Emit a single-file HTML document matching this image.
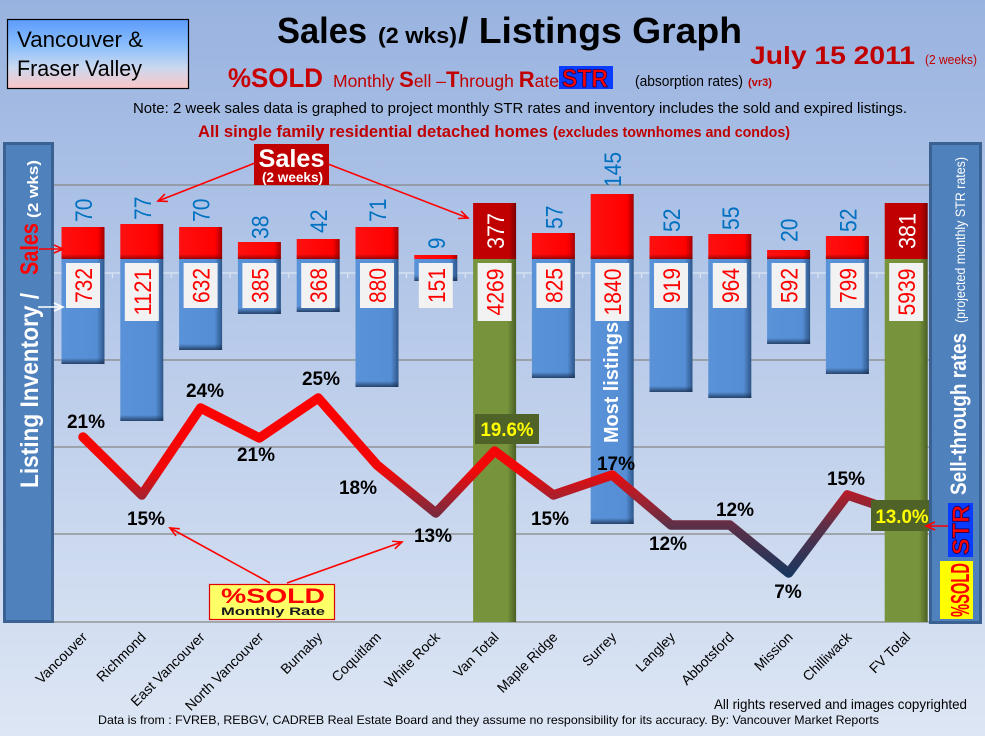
<!DOCTYPE html>
<html><head><meta charset="utf-8"><style>html,body{margin:0;padding:0;width:985px;height:736px;overflow:hidden;background:#c0cfea}svg{display:block}</style></head>
<body>
<svg width="985" height="736" viewBox="0 0 985 736" xmlns="http://www.w3.org/2000/svg" font-family="'Liberation Sans', Arial, sans-serif">
<defs>
<linearGradient id="bg" x1="0" y1="0" x2="0" y2="1"><stop offset="0" stop-color="#99b3e0"/><stop offset="1" stop-color="#dde6f4"/></linearGradient>
<linearGradient id="vf" x1="0" y1="0" x2="0" y2="1"><stop offset="0" stop-color="#5b9bfb"/><stop offset="0.4" stop-color="#8ec0fb"/><stop offset="0.7" stop-color="#cbd8ef"/><stop offset="1" stop-color="#fcc6c6"/></linearGradient>
<linearGradient id="blueG" x1="0" y1="0" x2="1" y2="0"><stop offset="0" stop-color="#5a92d8"/><stop offset="0.82" stop-color="#558ed5"/><stop offset="1" stop-color="#2e5688"/></linearGradient>
<linearGradient id="redG" x1="0" y1="0" x2="1" y2="0"><stop offset="0" stop-color="#ff1010"/><stop offset="0.84" stop-color="#ff0000"/><stop offset="1" stop-color="#a00000"/></linearGradient>
<linearGradient id="drG" x1="0" y1="0" x2="1" y2="0"><stop offset="0" stop-color="#c00000"/><stop offset="0.84" stop-color="#c00000"/><stop offset="1" stop-color="#7a0000"/></linearGradient>
<linearGradient id="grG" x1="0" y1="0" x2="1" y2="0"><stop offset="0" stop-color="#77933c"/><stop offset="0.8" stop-color="#77933c"/><stop offset="1" stop-color="#4a5e24"/></linearGradient>
<linearGradient id="shB" x1="0" y1="0" x2="0" y2="1"><stop offset="0" stop-color="#142846" stop-opacity="0"/><stop offset="1" stop-color="#142846" stop-opacity="0.75"/></linearGradient>
<linearGradient id="shR" x1="0" y1="0" x2="0" y2="1"><stop offset="0" stop-color="#700000" stop-opacity="0"/><stop offset="1" stop-color="#700000" stop-opacity="0.7"/></linearGradient>
<linearGradient id="lineG" gradientUnits="userSpaceOnUse" x1="0" y1="398" x2="0" y2="576"><stop offset="0" stop-color="#ff0000"/><stop offset="0.41" stop-color="#f00808"/><stop offset="0.55" stop-color="#aa1f2c"/><stop offset="0.72" stop-color="#5c3048"/><stop offset="1" stop-color="#17375e"/></linearGradient>
<marker id="aR" markerUnits="userSpaceOnUse" markerWidth="12" markerHeight="10" refX="10" refY="5" orient="auto"><path d="M1,1 L10,5 L1,9" fill="none" stroke="#ff0000" stroke-width="1.6"/></marker>
<marker id="aW" markerUnits="userSpaceOnUse" markerWidth="12" markerHeight="10" refX="10" refY="5" orient="auto"><path d="M1,1 L10,5 L1,9" fill="none" stroke="#ffffff" stroke-width="1.6"/></marker>
</defs>

<rect x="0" y="0" width="985" height="736" fill="url(#bg)"/>

<!-- header -->
<rect x="7.5" y="19.5" width="181" height="69" fill="url(#vf)" stroke="#000" stroke-width="1.2"/>
<text x="17" y="47" font-size="22" fill="#000" textLength="126" lengthAdjust="spacingAndGlyphs">Vancouver &amp;</text>
<text x="17" y="76" font-size="22" fill="#000" textLength="125" lengthAdjust="spacingAndGlyphs">Fraser Valley</text>

<text x="277" y="43" font-size="36" font-weight="bold" fill="#000" textLength="90" lengthAdjust="spacingAndGlyphs">Sales</text>
<text x="378" y="43" font-size="22" font-weight="bold" fill="#000" textLength="79" lengthAdjust="spacingAndGlyphs">(2 wks)</text>
<text x="458" y="43" font-size="36" font-weight="bold" fill="#000" textLength="284" lengthAdjust="spacingAndGlyphs">/ Listings Graph</text>

<text x="750" y="64" font-size="25" font-weight="bold" fill="#c00000" textLength="165" lengthAdjust="spacingAndGlyphs">July 15 2011</text>
<text x="925" y="64" font-size="13" fill="#c00000" textLength="52" lengthAdjust="spacingAndGlyphs">(2 weeks)</text>

<text x="228" y="87" font-size="27" font-weight="bold" fill="#c80000" textLength="95" lengthAdjust="spacingAndGlyphs">%SOLD</text>
<text x="333" y="87" font-size="17.5" fill="#c00000">Monthly <tspan font-weight="bold" font-size="22">S</tspan>ell –<tspan font-weight="bold" font-size="22">T</tspan>hrough <tspan font-weight="bold" font-size="22">R</tspan>ate</text>
<rect x="559" y="66" width="54" height="23" fill="#0a3cff"/>
<text x="562" y="87" font-size="25" font-weight="bold" fill="#ff0000" stroke="#1a0050" stroke-width="0.8" textLength="46" lengthAdjust="spacingAndGlyphs">STR</text>
<text x="635" y="86" font-size="15" fill="#000" textLength="108" lengthAdjust="spacingAndGlyphs">(absorption rates)</text>
<text x="748" y="86" font-size="11" font-weight="bold" fill="#c00000" textLength="24" lengthAdjust="spacingAndGlyphs">(vr3)</text>

<text x="133" y="113" font-size="15" fill="#000" textLength="774" lengthAdjust="spacingAndGlyphs">Note: 2 week sales data is graphed to project monthly STR rates and inventory includes the sold and expired listings.</text>
<text x="198" y="137" font-size="17" font-weight="bold" fill="#c00000" textLength="350" lengthAdjust="spacingAndGlyphs">All single family residential detached homes</text>
<text x="553" y="137" font-size="15" font-weight="bold" fill="#c00000" textLength="237" lengthAdjust="spacingAndGlyphs">(excludes townhomes and condos)</text>

<!-- gridlines -->
<g stroke="#868686" stroke-width="1.2">
<line x1="53" y1="185" x2="930" y2="185"/>
<line x1="53" y1="360" x2="930" y2="360"/>
<line x1="53" y1="447" x2="930" y2="447"/>
<line x1="53" y1="534" x2="930" y2="534"/>
<line x1="53" y1="622" x2="930" y2="622"/>
</g>
<!-- category axis -->
<g stroke="#dce5f3" stroke-width="1.2">
<line x1="53" y1="273" x2="930" y2="273"/>
<line x1="112.4" y1="273" x2="112.4" y2="278"/><line x1="171.2" y1="273" x2="171.2" y2="278"/><line x1="230" y1="273" x2="230" y2="278"/><line x1="288.8" y1="273" x2="288.8" y2="278"/><line x1="347.6" y1="273" x2="347.6" y2="278"/><line x1="406.4" y1="273" x2="406.4" y2="278"/><line x1="465.2" y1="273" x2="465.2" y2="278"/><line x1="524" y1="273" x2="524" y2="278"/><line x1="582.8" y1="273" x2="582.8" y2="278"/><line x1="641.6" y1="273" x2="641.6" y2="278"/><line x1="700.4" y1="273" x2="700.4" y2="278"/><line x1="759.2" y1="273" x2="759.2" y2="278"/><line x1="818" y1="273" x2="818" y2="278"/><line x1="876.8" y1="273" x2="876.8" y2="278"/>
</g>

<!-- bars -->
<g>
<!-- red sales -->
<rect x="61.5" y="227" width="43" height="32" fill="url(#redG)"/>
<rect x="120.3" y="224" width="43" height="35" fill="url(#redG)"/>
<rect x="179.1" y="227" width="43" height="32" fill="url(#redG)"/>
<rect x="237.9" y="242" width="43" height="17" fill="url(#redG)"/>
<rect x="296.7" y="239" width="43" height="20" fill="url(#redG)"/>
<rect x="355.5" y="227" width="43" height="32" fill="url(#redG)"/>
<rect x="414.3" y="255" width="43" height="4" fill="url(#redG)"/>
<rect x="531.9" y="233" width="43" height="26" fill="url(#redG)"/>
<rect x="590.7" y="194" width="43" height="65" fill="url(#redG)"/>
<rect x="649.5" y="236" width="43" height="23" fill="url(#redG)"/>
<rect x="708.3" y="234" width="43" height="25" fill="url(#redG)"/>
<rect x="767.1" y="250" width="43" height="9" fill="url(#redG)"/>
<rect x="825.9" y="236" width="43" height="23" fill="url(#redG)"/>
<g fill="url(#shR)">
<rect x="61.5" y="254" width="43" height="5"/><rect x="120.3" y="254" width="43" height="5"/><rect x="179.1" y="254" width="43" height="5"/><rect x="237.9" y="254" width="43" height="5"/><rect x="296.7" y="254" width="43" height="5"/><rect x="355.5" y="254" width="43" height="5"/><rect x="531.9" y="254" width="43" height="5"/><rect x="590.7" y="254" width="43" height="5"/><rect x="649.5" y="254" width="43" height="5"/><rect x="708.3" y="254" width="43" height="5"/><rect x="767.1" y="255" width="43" height="4"/><rect x="825.9" y="254" width="43" height="5"/>
</g>
<!-- totals dark red -->
<rect x="473.1" y="203" width="43" height="56" fill="url(#drG)"/>
<rect x="884.7" y="203" width="43" height="56" fill="url(#drG)"/>
<!-- blue inventory -->
<rect x="61.5" y="259" width="43" height="105" fill="url(#blueG)"/>
<rect x="120.3" y="259" width="43" height="162" fill="url(#blueG)"/>
<rect x="179.1" y="259" width="43" height="91" fill="url(#blueG)"/>
<rect x="237.9" y="259" width="43" height="55" fill="url(#blueG)"/>
<rect x="296.7" y="259" width="43" height="53" fill="url(#blueG)"/>
<rect x="355.5" y="259" width="43" height="128" fill="url(#blueG)"/>
<rect x="414.3" y="259" width="43" height="22" fill="url(#blueG)"/>
<rect x="531.9" y="259" width="43" height="119" fill="url(#blueG)"/>
<rect x="590.7" y="259" width="43" height="265" fill="url(#blueG)"/>
<rect x="649.5" y="259" width="43" height="133" fill="url(#blueG)"/>
<rect x="708.3" y="259" width="43" height="139" fill="url(#blueG)"/>
<rect x="767.1" y="259" width="43" height="85" fill="url(#blueG)"/>
<rect x="825.9" y="259" width="43" height="115" fill="url(#blueG)"/>
<g fill="url(#shB)">
<rect x="61.5" y="358" width="43" height="6"/><rect x="120.3" y="415" width="43" height="6"/><rect x="179.1" y="344" width="43" height="6"/><rect x="237.9" y="308" width="43" height="6"/><rect x="296.7" y="306" width="43" height="6"/><rect x="355.5" y="381" width="43" height="6"/><rect x="414.3" y="275" width="43" height="6"/><rect x="531.9" y="372" width="43" height="6"/><rect x="590.7" y="518" width="43" height="6"/><rect x="649.5" y="386" width="43" height="6"/><rect x="708.3" y="392" width="43" height="6"/><rect x="767.1" y="338" width="43" height="6"/><rect x="825.9" y="368" width="43" height="6"/>
</g>
<!-- green totals -->
<rect x="473.1" y="259" width="43" height="363" fill="url(#grG)"/>
<rect x="884.7" y="259" width="43" height="363" fill="url(#grG)"/>
</g>

<!-- sales value labels -->
<g font-size="24" fill="#0070c0">
<text transform="translate(92,222) rotate(-90)" textLength="23.5" lengthAdjust="spacingAndGlyphs">70</text>
<text transform="translate(150.8,220) rotate(-90)" textLength="23.5" lengthAdjust="spacingAndGlyphs">77</text>
<text transform="translate(209.6,222) rotate(-90)" textLength="23.5" lengthAdjust="spacingAndGlyphs">70</text>
<text transform="translate(268.4,239) rotate(-90)" textLength="23.5" lengthAdjust="spacingAndGlyphs">38</text>
<text transform="translate(327.2,233) rotate(-90)" textLength="23.5" lengthAdjust="spacingAndGlyphs">42</text>
<text transform="translate(386,222) rotate(-90)" textLength="23.5" lengthAdjust="spacingAndGlyphs">71</text>
<text transform="translate(444.8,249) rotate(-90)" textLength="11.5" lengthAdjust="spacingAndGlyphs">9</text>
<text transform="translate(562.4,229) rotate(-90)" textLength="23.5" lengthAdjust="spacingAndGlyphs">57</text>
<text transform="translate(621.2,187) rotate(-90)" textLength="35" lengthAdjust="spacingAndGlyphs">145</text>
<text transform="translate(680,232) rotate(-90)" textLength="23.5" lengthAdjust="spacingAndGlyphs">52</text>
<text transform="translate(738.8,230) rotate(-90)" textLength="23.5" lengthAdjust="spacingAndGlyphs">55</text>
<text transform="translate(797.6,242) rotate(-90)" textLength="23.5" lengthAdjust="spacingAndGlyphs">20</text>
<text transform="translate(856.4,232) rotate(-90)" textLength="23.5" lengthAdjust="spacingAndGlyphs">52</text>
</g>
<g font-size="24" fill="#ffffff" text-anchor="middle">
<text transform="translate(504,231) rotate(-90)" textLength="36" lengthAdjust="spacingAndGlyphs">377</text>
<text transform="translate(915.7,231) rotate(-90)" textLength="36" lengthAdjust="spacingAndGlyphs">381</text>
</g>

<!-- inventory label boxes -->
<g fill="#f2f2f2">
<rect x="66" y="263" width="34" height="45"/>
<rect x="124.8" y="263" width="34" height="58"/>
<rect x="183.6" y="263" width="34" height="45"/>
<rect x="242.4" y="263" width="34" height="45"/>
<rect x="301.2" y="263" width="34" height="45"/>
<rect x="360" y="263" width="34" height="45"/>
<rect x="418.8" y="263" width="34" height="45"/>
<rect x="477.6" y="263" width="34" height="58"/>
<rect x="536.4" y="263" width="34" height="45"/>
<rect x="595.2" y="263" width="34" height="58"/>
<rect x="654" y="263" width="34" height="45"/>
<rect x="712.8" y="263" width="34" height="45"/>
<rect x="771.6" y="263" width="34" height="45"/>
<rect x="830.4" y="263" width="34" height="45"/>
<rect x="889.2" y="263" width="34" height="58"/>
</g>
<g font-size="24" fill="#ff0000" text-anchor="middle">
<text transform="translate(92,285.5) rotate(-90)" textLength="35" lengthAdjust="spacingAndGlyphs">732</text>
<text transform="translate(150.8,292) rotate(-90)" textLength="47" lengthAdjust="spacingAndGlyphs">1121</text>
<text transform="translate(209.6,285.5) rotate(-90)" textLength="35" lengthAdjust="spacingAndGlyphs">632</text>
<text transform="translate(268.4,285.5) rotate(-90)" textLength="35" lengthAdjust="spacingAndGlyphs">385</text>
<text transform="translate(327.2,285.5) rotate(-90)" textLength="35" lengthAdjust="spacingAndGlyphs">368</text>
<text transform="translate(386,285.5) rotate(-90)" textLength="35" lengthAdjust="spacingAndGlyphs">880</text>
<text transform="translate(444.8,285.5) rotate(-90)" textLength="35" lengthAdjust="spacingAndGlyphs">151</text>
<text transform="translate(503.6,292) rotate(-90)" textLength="47" lengthAdjust="spacingAndGlyphs">4269</text>
<text transform="translate(562.4,285.5) rotate(-90)" textLength="35" lengthAdjust="spacingAndGlyphs">825</text>
<text transform="translate(621.2,292) rotate(-90)" textLength="47" lengthAdjust="spacingAndGlyphs">1840</text>
<text transform="translate(680,285.5) rotate(-90)" textLength="35" lengthAdjust="spacingAndGlyphs">919</text>
<text transform="translate(738.8,285.5) rotate(-90)" textLength="35" lengthAdjust="spacingAndGlyphs">964</text>
<text transform="translate(797.6,285.5) rotate(-90)" textLength="35" lengthAdjust="spacingAndGlyphs">592</text>
<text transform="translate(856.4,285.5) rotate(-90)" textLength="35" lengthAdjust="spacingAndGlyphs">799</text>
<text transform="translate(915.2,292) rotate(-90)" textLength="47" lengthAdjust="spacingAndGlyphs">5939</text>
</g>

<text transform="translate(618,443) rotate(-90)" font-size="20" font-weight="bold" fill="#ffffff" textLength="121" lengthAdjust="spacingAndGlyphs">Most listings</text>

<!-- line series -->
<polyline points="83,437 141.8,495 200.6,408 259.4,438 318.2,398 377,465 435.8,513 494.6,451 553.4,495 612.2,475 671,525 729.8,525 788.6,573 847.4,495 906.2,515" fill="none" stroke="url(#lineG)" stroke-width="9.5" stroke-linejoin="round" stroke-linecap="round"/>

<!-- pct labels -->
<g font-size="19" font-weight="bold" fill="#000" text-anchor="middle">
<text x="86" y="428">21%</text>
<text x="146" y="525">15%</text>
<text x="205" y="397">24%</text>
<text x="256" y="461">21%</text>
<text x="321" y="385">25%</text>
<text x="358" y="494">18%</text>
<text x="433" y="542">13%</text>
<text x="550" y="525">15%</text>
<text x="616" y="470">17%</text>
<text x="668" y="550">12%</text>
<text x="735" y="516">12%</text>
<text x="788" y="598">7%</text>
<text x="846" y="485">15%</text>
</g>
<rect x="475" y="414" width="64" height="30" fill="#4f6228"/>
<text x="507" y="436" font-size="19" font-weight="bold" fill="#ffff00" text-anchor="middle" textLength="53" lengthAdjust="spacingAndGlyphs">19.6%</text>
<rect x="871" y="500" width="59" height="31" fill="#4f6228"/>
<text x="902" y="523" font-size="19" font-weight="bold" fill="#ffff00" text-anchor="middle" textLength="53" lengthAdjust="spacingAndGlyphs">13.0%</text>

<!-- Sales callout -->
<line x1="255" y1="163" x2="158" y2="201" stroke="#ff0000" stroke-width="1.6" marker-end="url(#aR)"/>
<line x1="328" y1="164" x2="468" y2="218" stroke="#ff0000" stroke-width="1.6" marker-end="url(#aR)"/>
<rect x="254" y="144" width="75" height="41" fill="#c00000"/>
<text x="291.5" y="167" font-size="25" font-weight="bold" fill="#fff" text-anchor="middle" textLength="66" lengthAdjust="spacingAndGlyphs">Sales</text>
<text x="292.5" y="182" font-size="14" font-weight="bold" fill="#fff" text-anchor="middle" textLength="61" lengthAdjust="spacingAndGlyphs">(2 weeks)</text>

<!-- %SOLD callout -->
<line x1="270" y1="583" x2="170" y2="528" stroke="#ff0000" stroke-width="1.6" marker-end="url(#aR)"/>
<line x1="287" y1="583" x2="402" y2="542" stroke="#ff0000" stroke-width="1.6" marker-end="url(#aR)"/>
<rect x="209.5" y="584.5" width="125" height="35" fill="#ffff66" stroke="#e00000" stroke-width="1.2"/>
<text x="221" y="603" font-size="21" font-weight="bold" fill="#ff0000" textLength="104" lengthAdjust="spacingAndGlyphs">%SOLD</text>
<text x="221" y="615" font-size="11" font-weight="bold" fill="#1a1a1a" textLength="104" lengthAdjust="spacingAndGlyphs">Monthly Rate</text>

<!-- left panel -->
<rect x="4.5" y="143.5" width="48" height="478" fill="#4f81bd" stroke="#3a6191" stroke-width="3"/>
<g transform="translate(38,488) rotate(-90)" font-weight="bold">
<text x="0" y="0" font-size="25" fill="#ffffff" textLength="195" lengthAdjust="spacingAndGlyphs">Listing Inventory /</text>
<text x="213" y="0" font-size="25" fill="#ff0000" textLength="52" lengthAdjust="spacingAndGlyphs">Sales</text>
<text x="270" y="0" font-size="15" fill="#ffffff" textLength="58" lengthAdjust="spacingAndGlyphs">(2 wks)</text>
</g>
<line x1="39" y1="249" x2="63" y2="249" stroke="#ff0000" stroke-width="1.6" marker-end="url(#aR)"/>
<line x1="38" y1="307" x2="63" y2="307" stroke="#ffffff" stroke-width="1.6" marker-end="url(#aW)"/>

<!-- right panel -->
<rect x="930.5" y="143.5" width="50" height="479" fill="#4f81bd" stroke="#3a6191" stroke-width="3"/>
<g transform="translate(966,495) rotate(-90)" fill="#ffffff">
<text x="0" y="0" font-size="22" font-weight="bold" textLength="162" lengthAdjust="spacingAndGlyphs">Sell-through rates</text>
<text x="172" y="-1" font-size="13.5" textLength="166" lengthAdjust="spacingAndGlyphs">(projected monthly STR rates)</text>
</g>
<rect x="948" y="503" width="25" height="54" fill="#0a3cff"/>
<text transform="translate(969,555) rotate(-90)" font-size="24" font-weight="bold" fill="#ff0000" stroke="#1a0050" stroke-width="0.8" textLength="50" lengthAdjust="spacingAndGlyphs">STR</text>
<rect x="940" y="561" width="33" height="58" fill="#ffff00"/>
<text transform="translate(969,617) rotate(-90)" font-size="26" font-weight="bold" fill="#ff0000" textLength="54" lengthAdjust="spacingAndGlyphs">%SOLD</text>
<line x1="948" y1="526" x2="926" y2="526" stroke="#ff0000" stroke-width="1.6" marker-end="url(#aR)"/>

<!-- category labels -->
<g font-size="14" fill="#000" text-anchor="end">
<text transform="translate(88,638) rotate(-45)">Vancouver</text>
<text transform="translate(146.8,638) rotate(-45)">Richmond</text>
<text transform="translate(205.6,638) rotate(-45)">East Vancouver</text>
<text transform="translate(264.4,638) rotate(-45)">North Vancouver</text>
<text transform="translate(323.2,638) rotate(-45)">Burnaby</text>
<text transform="translate(382,638) rotate(-45)">Coquitlam</text>
<text transform="translate(440.8,638) rotate(-45)">White Rock</text>
<text transform="translate(499.6,638) rotate(-45)">Van Total</text>
<text transform="translate(558.4,638) rotate(-45)">Maple Ridge</text>
<text transform="translate(617.2,638) rotate(-45)">Surrey</text>
<text transform="translate(676,638) rotate(-45)">Langley</text>
<text transform="translate(734.8,638) rotate(-45)">Abbotsford</text>
<text transform="translate(793.6,638) rotate(-45)">Mission</text>
<text transform="translate(852.4,638) rotate(-45)">Chilliwack</text>
<text transform="translate(911.2,638) rotate(-45)">FV Total</text>
</g>

<!-- footer -->
<text x="714" y="709" font-size="14" fill="#000" textLength="253" lengthAdjust="spacingAndGlyphs">All rights reserved and  images copyrighted</text>
<text x="98" y="724" font-size="12" fill="#000" textLength="781" lengthAdjust="spacingAndGlyphs">Data is from : FVREB, REBGV, CADREB Real Estate Board and they assume no responsibility for its accuracy. By: Vancouver Market Reports</text>
</svg>
</body></html>
